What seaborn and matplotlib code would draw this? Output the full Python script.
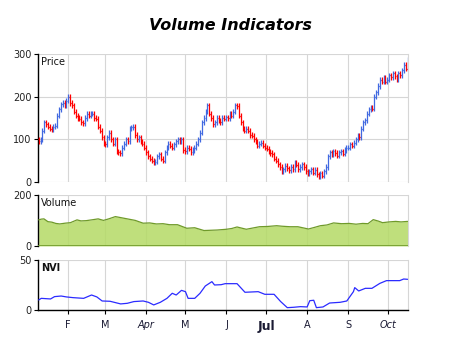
import numpy as np
import pandas as pd
import matplotlib
matplotlib.use("Agg")
import matplotlib.pyplot as plt
import matplotlib.dates as mdates
import seaborn as sns

# ---------------- data ----------------
start_date = "2019-01-10"
end_date = "2019-10-16"

closes_jan = [95, 100, 120, 140, 135, 130, 125, 122, 130, 132, 155, 170, 182, 185, 180, 190]
closes_feb = [200, 185, 180, 165, 155, 150, 148, 140, 138, 150, 160, 155, 160, 160, 150, 148, 130, 120, 105, 90]
closes_mar = [88, 105, 115, 100, 90, 100, 72, 70, 68, 80, 90, 100, 95, 125, 128, 130, 110, 100, 105, 95, 90]
closes_apr = [80, 70, 60, 55, 50, 45, 48, 60, 65, 55, 50, 70, 80, 90, 85, 80, 88, 95, 100, 95, 100, 75]
closes_may = [72, 80, 78, 70, 75, 80, 90, 100, 115, 140, 150, 165, 180, 160, 150, 135, 140, 150, 145, 140, 150, 148, 152]
closes_jun = [150, 160, 155, 165, 180, 178, 155, 140, 125, 120, 125, 120, 110, 108, 100, 95, 85, 90, 92, 85]
closes_jul = [80, 78, 72, 68, 65, 55, 50, 42, 35, 25, 30, 38, 32, 28, 35, 30, 45, 40, 30, 35, 42, 35, 25]
closes_aug = [20, 25, 30, 22, 28, 18, 12, 20, 15, 25, 35, 60, 70, 65, 72, 68, 62, 70, 72, 66, 75, 80]
closes_sep = [80, 88, 85, 92, 100, 108, 105, 125, 140, 145, 160, 170, 175, 172, 200, 210, 225, 240, 235, 245, 235]
closes_oct = [240, 250, 245, 255, 248, 240, 255, 250, 262, 275, 265, 288]

vol_dates = ["2019-01-10", "2019-01-12", "2019-01-14", "2019-01-17", "2019-01-20", "2019-01-23",
             "2019-01-26", "2019-01-30", "2019-02-03", "2019-02-08", "2019-02-11", "2019-02-15",
             "2019-02-19", "2019-02-24", "2019-02-28", "2019-03-04", "2019-03-09", "2019-03-13",
             "2019-03-18", "2019-03-24", "2019-03-30", "2019-04-04", "2019-04-09", "2019-04-14",
             "2019-04-19", "2019-04-25", "2019-05-02", "2019-05-08", "2019-05-15", "2019-05-25",
             "2019-06-01", "2019-06-05", "2019-06-09", "2019-06-16", "2019-06-21", "2019-06-26",
             "2019-07-02", "2019-07-09", "2019-07-13", "2019-07-19", "2019-07-25", "2019-08-02",
             "2019-08-07", "2019-08-11", "2019-08-16", "2019-08-21", "2019-08-27", "2019-09-02",
             "2019-09-07", "2019-09-12", "2019-09-16", "2019-09-20", "2019-09-24", "2019-09-27",
             "2019-10-02", "2019-10-07", "2019-10-11", "2019-10-16"]
vol_values = [103, 106, 107, 96, 94, 89, 87, 90, 92, 103, 99, 100,
              103, 107, 101, 107, 116, 112, 107, 101, 90, 91, 87, 88,
              84, 84, 70, 72, 61, 63, 66, 69, 75, 66, 71, 76,
              77, 80, 78, 76, 76, 67, 74, 80, 83, 91, 88, 89,
              86, 89, 88, 104, 98, 92, 95, 97, 95, 97]

nvi_dates = ["2019-01-10", "2019-01-12", "2019-01-19", "2019-01-22", "2019-01-27", "2019-01-31",
             "2019-02-05", "2019-02-13", "2019-02-19", "2019-02-23", "2019-02-27", "2019-03-05",
             "2019-03-13", "2019-03-18", "2019-03-23", "2019-03-30", "2019-04-03", "2019-04-07",
             "2019-04-12", "2019-04-17", "2019-04-21", "2019-04-24", "2019-04-28", "2019-05-01",
             "2019-05-03", "2019-05-08", "2019-05-12", "2019-05-16", "2019-05-21", "2019-05-23",
             "2019-05-28", "2019-05-31", "2019-06-09", "2019-06-15", "2019-06-25", "2019-06-30",
             "2019-07-07", "2019-07-12", "2019-07-17", "2019-07-22", "2019-07-27", "2019-08-01",
             "2019-08-03", "2019-08-06", "2019-08-08", "2019-08-13", "2019-08-18", "2019-08-26",
             "2019-08-31", "2019-09-05", "2019-09-06", "2019-09-09", "2019-09-14", "2019-09-19",
             "2019-09-25", "2019-09-30", "2019-10-10", "2019-10-13", "2019-10-16"]
nvi_values = [10.2, 11.8, 11.2, 13.5, 14.1, 13.2,
              12.5, 11.8, 15.1, 13.2, 9.2, 8.9,
              6.3, 6.9, 8.6, 9.2, 7.9, 5.3,
              7.9, 11.8, 16.8, 15.1, 19.7, 18.4,
              11.8, 11.8, 16.8, 24.0, 28.3, 25.0,
              25.3, 26.3, 26.3, 17.8, 18.4, 15.8,
              15.8, 8.6, 2.6, 3.0, 3.6, 3.3,
              9.5, 9.9, 2.6, 3.3, 7.2, 7.9,
              9.2, 18.4, 22.4, 19.1, 21.7, 21.7,
              26.6, 29.3, 29.3, 30.9, 30.6]

month_ticks = ["2019-02-01", "2019-03-01", "2019-04-01", "2019-05-01", "2019-06-01",
               "2019-07-01", "2019-08-01", "2019-09-01", "2019-10-01"]
month_labels = ["F", "M", "Apr", "M", "J", "Jul", "A", "S", "Oct"]

price_ticks = [0, 100, 200, 300]
volume_ticks = [0, 200]
nvi_ticks = [0, 50]

# ---------------- build frames ----------------
closes = (closes_jan + closes_feb + closes_mar + closes_apr + closes_may +
          closes_jun + closes_jul + closes_aug + closes_sep + closes_oct)
# bars are evenly spaced across the period in the reference
dates = pd.date_range(start_date, end_date, periods=len(closes))
price = pd.DataFrame({"date": dates, "close": closes})
price["open"] = price["close"].shift(1).fillna(price["close"].iloc[0] + 5)
price["high"] = price[["open", "close"]].max(axis=1) + 6
price["low"] = price[["open", "close"]].min(axis=1) - 6
price["up"] = price["close"] >= price["open"]

vol = pd.DataFrame({"date": pd.to_datetime(vol_dates), "volume": vol_values})
nvi = pd.DataFrame({"date": pd.to_datetime(nvi_dates), "nvi": nvi_values})

# ---------------- style ----------------
sns.set_theme(style="whitegrid")
plt.rcParams["font.family"] = ["DejaVu Sans"]

UP = "#4169e1"
DOWN = "#ff0000"
GRID = "#d6d6d6"

fig = plt.figure(figsize=(4.6, 3.45), dpi=100)
fig.patch.set_facecolor("white")
left, width = 0.0826, 0.8043
ax_p = fig.add_axes([left, 0.4725, width, 0.371])
ax_v = fig.add_axes([left, 0.2870, width, 0.1469])
ax_n = fig.add_axes([left, 0.1006, width, 0.1467])

xmin = pd.Timestamp(start_date) - pd.Timedelta(hours=12)
xmax = pd.Timestamp(end_date) + pd.Timedelta(hours=6)
tick_pos = pd.to_datetime(month_ticks)

# price OHLC bars
cols = np.where(price["up"], UP, DOWN)
xd = mdates.date2num(price["date"])
ax_p.vlines(xd, price["low"], price["high"], colors=cols, lw=0.9, zorder=3)
ax_p.hlines(price["open"], xd - 0.6, xd, colors=cols, lw=0.9, zorder=3)
ax_p.hlines(price["close"], xd, xd + 0.6, colors=cols, lw=0.9, zorder=3)

# volume area (semi-transparent so grid shows through)
ax_v.fill_between(vol["date"], 0, vol["volume"], color="#b4da65", alpha=0.85,
                  lw=0, zorder=2)
sns.lineplot(data=vol, x="date", y="volume", ax=ax_v, color="#6f9a2a", lw=0.9, zorder=3)
ax_v.axhline(0, color="#6f9a2a", lw=1.2, zorder=3)

# NVI line
sns.lineplot(data=nvi, x="date", y="nvi", ax=ax_n, color="#2b2bff", lw=0.9, zorder=3)

for ax, ylim, yt in [(ax_p, (0, 300), price_ticks),
                     (ax_v, (0, 200), volume_ticks),
                     (ax_n, (0, 50), nvi_ticks)]:
    ax.set_facecolor("white")
    ax.set_xlim(mdates.date2num(xmin), mdates.date2num(xmax))
    ax.set_ylim(*ylim)
    ax.set_yticks(yt)
    ax.set_xticks(mdates.date2num(tick_pos))
    ax.grid(True, color=GRID, lw=0.8, zorder=0)
    ax.set_axisbelow(True)
    ax.set_xlabel("")
    ax.set_ylabel("")
    for s in ["top", "bottom"]:
        ax.spines[s].set_visible(False)
    ax.spines["right"].set_visible(True)
    ax.spines["right"].set_color(GRID)
    ax.spines["right"].set_linewidth(0.8)
    ax.spines["left"].set_visible(True)
    ax.spines["left"].set_color("black")
    ax.spines["left"].set_linewidth(1.0)
    ax.tick_params(axis="y", left=True, length=3, width=0.8, color="black",
                   labelsize=7, pad=1.5, labelcolor="#222222")
    ax.tick_params(axis="x", bottom=False, labelbottom=False)

ax_n.spines["bottom"].set_visible(True)
ax_n.spines["bottom"].set_color("black")
ax_n.spines["bottom"].set_linewidth(1.0)
ax_n.tick_params(axis="x", bottom=True, labelbottom=True, length=3, width=0.8,
                 color="black", labelsize=7, pad=4, labelcolor="#1a1a33")
ax_n.set_xticklabels(month_labels)
for lab in ax_n.get_xticklabels():
    t = lab.get_text()
    if t in ("Apr", "Oct"):
        lab.set_style("italic")
    if t == "Jul":
        lab.set_fontweight("bold")
        lab.set_fontsize(9)

ax_p.text(0.008, 0.975, "Price", transform=ax_p.transAxes, va="top", ha="left",
          fontsize=7, color="#111111")
ax_v.text(0.008, 0.94, "Volume", transform=ax_v.transAxes, va="top", ha="left",
          fontsize=7, color="#111111")
ax_n.text(0.008, 0.94, "NVI", transform=ax_n.transAxes, va="top", ha="left",
          fontsize=7, fontweight="bold", color="#111111")

fig.text(0.5, 0.925, "Volume Indicators", ha="center", va="center",
         fontsize=11.5, fontweight="bold", style="italic", color="black")

fig.savefig("out.png", dpi=100, facecolor="white")
